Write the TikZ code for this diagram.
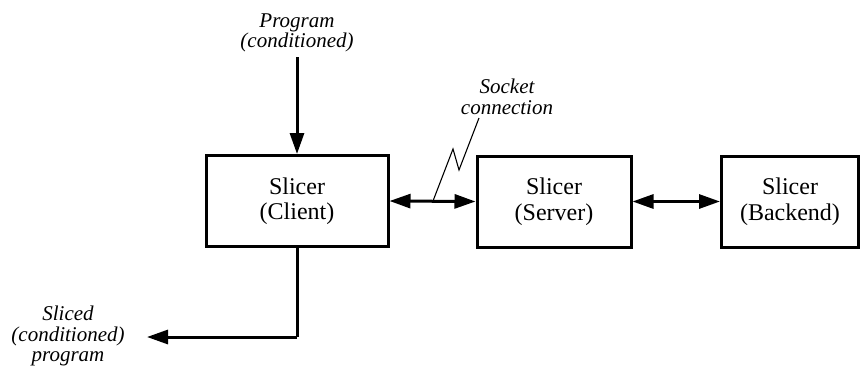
\documentclass[tikz,border=0pt]{standalone}
\usepackage{fontspec}
\setmainfont{Liberation Serif}
\usetikzlibrary{arrows.meta}
\begin{document}
\begin{tikzpicture}[x=1pt,y=-1pt,
  tip/.tip={Triangle[length=21pt,width=14pt]},
  block/.style={draw,line width=3pt,minimum width=180pt,minimum height=91pt,
    align=center,inner sep=0pt,font=\fontsize{24}{25.5}\selectfont},
  note/.style={align=center,inner sep=0pt,font=\fontsize{21}{20.5}\selectfont\itshape},
  flow/.style={line width=3pt,-tip},
  dflow/.style={line width=3pt,tip-tip},
  thin/.style={line width=1.1pt}]
\useasboundingbox (0,0) rectangle (860,370);

% slicer components
\node[block,minimum width=182pt] (client) at (297,201) {Slicer\\(Client)};
\node[block,minimum width=154pt] (server) at (554,201.5) {Slicer\\(Server)};
\node[block,minimum width=137pt,anchor=west] (backend) at (720,201.5) {Slicer\\(Backend)};

% input and output labels
\node[note] (prog) at (297,33) {Program\\(conditioned)};
\node[note] (sliced) at (68,336) {Sliced\\(conditioned)\\program};
\node[note] (sock) at (507,97) {Socket\\connection};

% data flow
\draw[flow] (prog.south |- 0,57) -- (client.north);
\coordinate (turn) at (client.south |- 0,337);
\coordinate (outend) at (147,337);
\draw[line width=3pt] (client.south) -- (turn);
\draw[flow] (turn) -- (outend);
\draw[dflow] (client.east) -- (server.west);
\draw[dflow] (server.east) -- (backend.west);

% socket marker
\coordinate (s1) at (479,118);
\coordinate (s2) at (459,170);
\coordinate (s3) at (453,149);
\coordinate (s4) at (433,201);
\draw[thin] (s1) -- (s2) -- (s3) -- (s4);
\end{tikzpicture}
\end{document}
